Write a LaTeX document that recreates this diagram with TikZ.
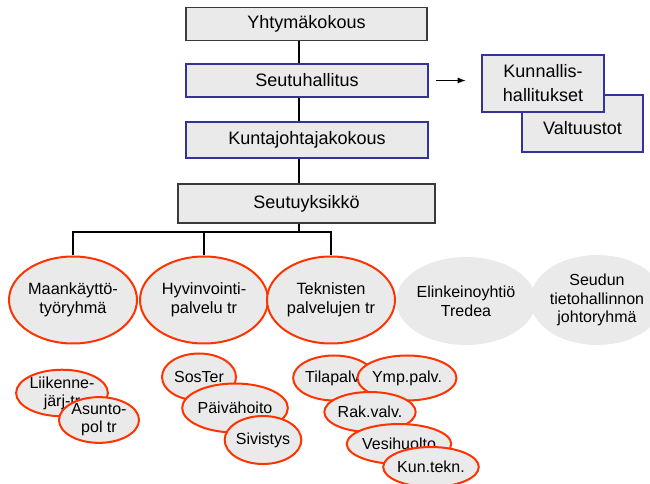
\documentclass[tikz,border=0pt]{standalone}
\usepackage{fontspec}
\setmainfont{Liberation Sans}
\usetikzlibrary{shapes.geometric,arrows.meta}
\definecolor{boxfill}{HTML}{EAEAEA}
\definecolor{blueline}{HTML}{333399}
\definecolor{redline}{HTML}{FF3300}
\definecolor{grayline}{HTML}{3A3A3A}
\begin{document}
\begin{tikzpicture}[x=0.75pt,y=-0.75pt,
  plainbox/.style={draw=grayline,line width=1.1pt,fill=boxfill,inner sep=0pt,font=\fontsize{13.5}{16}\selectfont},
  bluebox/.style={draw=blueline,line width=1.9pt,fill=boxfill,inner sep=0pt,align=center,font=\fontsize{13.5}{18}\selectfont},
  bigell/.style={ellipse,draw=redline,line width=1.5pt,fill=boxfill,inner sep=0pt,align=center,minimum width=96pt,minimum height=65.25pt,font=\fontsize{12.25}{14}\selectfont},
  grayell/.style={ellipse,fill=boxfill,inner sep=0pt,align=center,minimum width=96pt,minimum height=66pt,font=\fontsize{12}{14}\selectfont},
  smallell/.style={ellipse,draw=redline,line width=1.5pt,fill=boxfill,inner sep=0pt,align=center,font=\fontsize{12}{13.5}\selectfont},
  conn/.style={line width=1.1pt,black}]
\useasboundingbox (0,0) rectangle (650,484);
\clip (0,0) rectangle (650,484);
\coordinate (trunk) at (299,0);
\coordinate (bar) at (0,232);
% top boxes
\node[plainbox,minimum width=180.75pt,minimum height=24.75pt] (yht) at (306.5,24) {Yhtymäkokous};
\node[bluebox,minimum width=181.5pt,minimum height=24.75pt] (seuh) at (307,80.5) {Seutuhallitus};
\node[bluebox,minimum width=181.5pt,minimum height=27pt] (kunj) at (307,140) {Kuntajohtajakokous};
\node[plainbox,minimum width=192.75pt,minimum height=29.25pt] (seuy) at (306.5,203.5) {Seutuyksikkö};
\draw[conn] (yht.south -| trunk) -- (seuh.north -| trunk);
\draw[conn] (seuh.south -| trunk) -- (kunj.north -| trunk);
\draw[conn] (kunj.south -| trunk) -- (seuy.north -| trunk);
% right boxes
\node[bluebox,minimum width=90.75pt,minimum height=42.75pt,text depth=0pt] (valt) at (582.5,123.5) {\raisebox{-6pt}{Valtuustot}};
\node[bluebox,minimum width=91.5pt,minimum height=42.75pt] (kunh) at (543,83.5) {Kunnallis-\\hallitukset};
\draw[line width=0.8pt,-{Latex[length=6pt,width=4.5pt]},shorten <=5.25pt,shorten >=11.25pt] (seuh.east) -- (seuh.east -| kunh.west);
% ellipses row
\node[bigell] (maan) at (73,300) {Maankäyttö-\\työryhmä};
\node[bigell] (hyv) at (204,300) {Hyvinvointi-\\palvelu tr};
\node[bigell] (tek) at (331,300) {Teknisten\\palvelujen tr};
\node[grayell] (elin) at (466,301) {Elinkeinoyhtiö\\Tredea};
\node[grayell,minimum height=67.5pt] (seud) at (597,300) {Seudun\\tietohallinnon\\johtoryhmä};
\draw[conn] (seuy.south -| trunk) -- (trunk |- bar);
\draw[conn] (maan.north) -- (maan.north |- bar) -- (tek.north |- bar) -- (tek.north);
\draw[conn] (hyv.north) -- (hyv.north |- bar);
% small ellipses
\node[smallell,minimum width=55.5pt,minimum height=33pt] (liik) at (62,393) {Liikenne-\\järj-tr};
\node[smallell,minimum width=60pt,minimum height=30.75pt] (asun) at (99,420) {Asunto-\\pol tr};
\node[smallell,minimum width=55.5pt,minimum height=35.25pt] (sost) at (199,377) {SosTer};
\node[smallell,minimum width=61.5pt,minimum height=36.75pt] (paiv) at (235,408) {Päivähoito};
\node[smallell,minimum width=54pt,minimum height=36pt] (sivi) at (263,440) {Sivistys};
\node[smallell,minimum width=55.5pt,minimum height=33.75pt] (tila) at (334,378) {Tilapalv.};
\node[smallell,minimum width=54pt,minimum height=33.75pt] (ymp) at (407,378) {Ymp.palv.};
\node[smallell,minimum width=60.75pt,minimum height=30pt] (rak) at (370,412) {Rak.valv.};
\node[smallell,minimum width=54.75pt,minimum height=30pt] (vesi) at (399,444) {Vesihuolto};
\node[smallell,minimum width=54.75pt,minimum height=30pt] (kun) at (431,467) {Kun.tekn.};
\end{tikzpicture}
\end{document}
